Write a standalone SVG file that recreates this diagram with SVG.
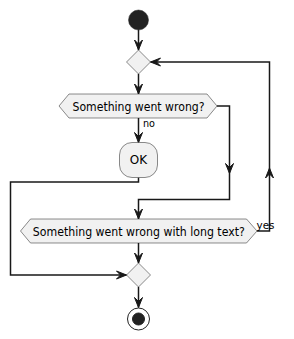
<svg xmlns="http://www.w3.org/2000/svg" width="294" height="339" viewBox="0 0 294 339">
<defs>
<style>
.ln{fill:none;stroke:#181818;stroke-width:1.5}
.ah{fill:#181818;stroke:#181818;stroke-width:1}
.box{fill:#F1F1F1;stroke:#181818;stroke-width:0.5}
.t{font-family:"DejaVu Sans",sans-serif;font-size:12px;fill:#000000}
.lbl{font-family:"DejaVu Sans",sans-serif;font-size:11px;fill:#000000}
</style>
</defs>
<rect width="294" height="339" fill="#FFFFFF"/>
<g id="connectors">
<line class="ln" x1="138.5" y1="30" x2="138.5" y2="50"/>
<polygon class="ah" points="134.5,40 138.5,50 142.5,40 138.5,44"/>
<line class="ln" x1="138.5" y1="74" x2="138.5" y2="94"/>
<polygon class="ah" points="134.5,84 138.5,94 142.5,84 138.5,88"/>
<line class="ln" x1="138.5" y1="118" x2="138.5" y2="142.5"/>
<polygon class="ah" points="134.5,132.5 138.5,142.5 142.5,132.5 138.5,136.5"/>
<polyline class="ln" points="217,106 229.5,106 229.5,199.5 138.5,199.5 138.5,219"/>
<polygon class="ah" points="225.5,163.5 229.5,173.5 233.5,163.5 229.5,167.5"/>
<polygon class="ah" points="134.5,209 138.5,219 142.5,209 138.5,213"/>
<polyline class="ln" points="257,231 269.5,231 269.5,62 150.5,62"/>
<polygon class="ah" points="265.5,178 269.5,168 273.5,178 269.5,174"/>
<polygon class="ah" points="160.5,58 150.5,62 160.5,66 156.5,62"/>
<polyline class="ln" points="138.5,177.5 138.5,182 10.5,182 10.5,275 126.5,275"/>
<polygon class="ah" points="116.5,271 126.5,275 116.5,279 120.5,275"/>
<line class="ln" x1="138.5" y1="243" x2="138.5" y2="263"/>
<polygon class="ah" points="134.5,253 138.5,263 142.5,253 138.5,257"/>
<line class="ln" x1="138.5" y1="287" x2="138.5" y2="307.5"/>
<polygon class="ah" points="134.5,297.5 138.5,307.5 142.5,297.5 138.5,301.5"/>
</g>
<g id="start">
<circle cx="138.5" cy="20" r="10" fill="#222222" stroke="#222222" stroke-width="0.5"/>
</g>
<g id="merge1">
<polygon class="box" points="138.5,50 150.5,62 138.5,74 126.5,62"/>
</g>
<g id="decision1">
<polygon class="box" points="59,106 69,94 207,94 217,106 207,118 69,118"/>
<text class="t" x="138.5" y="110.5" text-anchor="middle" textLength="132" lengthAdjust="spacingAndGlyphs">Something went wrong?</text>
</g>
<g id="label-no">
<text class="lbl" x="143" y="127" textLength="12" lengthAdjust="spacingAndGlyphs">no</text>
</g>
<g id="ok">
<rect class="box" x="119.5" y="142.5" width="38" height="35" rx="12.5" ry="12.5"/>
<text class="t" x="138.5" y="164" text-anchor="middle">OK</text>
</g>
<g id="decision2">
<polygon class="box" points="20.5,231 30.5,219 246.5,219 257,231 246.5,243 30.5,243"/>
<text class="t" x="138.8" y="235.5" text-anchor="middle" textLength="212" lengthAdjust="spacingAndGlyphs">Something went wrong with long text?</text>
</g>
<g id="label-yes">
<text class="lbl" x="256.5" y="229" textLength="18" lengthAdjust="spacingAndGlyphs">yes</text>
</g>
<g id="merge2">
<polygon class="box" points="138.5,263 150.5,275 138.5,287 126.5,275"/>
</g>
<g id="end">
<circle cx="138.5" cy="319" r="11" fill="none" stroke="#222222" stroke-width="1"/>
<circle cx="138.5" cy="319" r="6" fill="#222222" stroke="#222222" stroke-width="1"/>
</g>
</svg>
